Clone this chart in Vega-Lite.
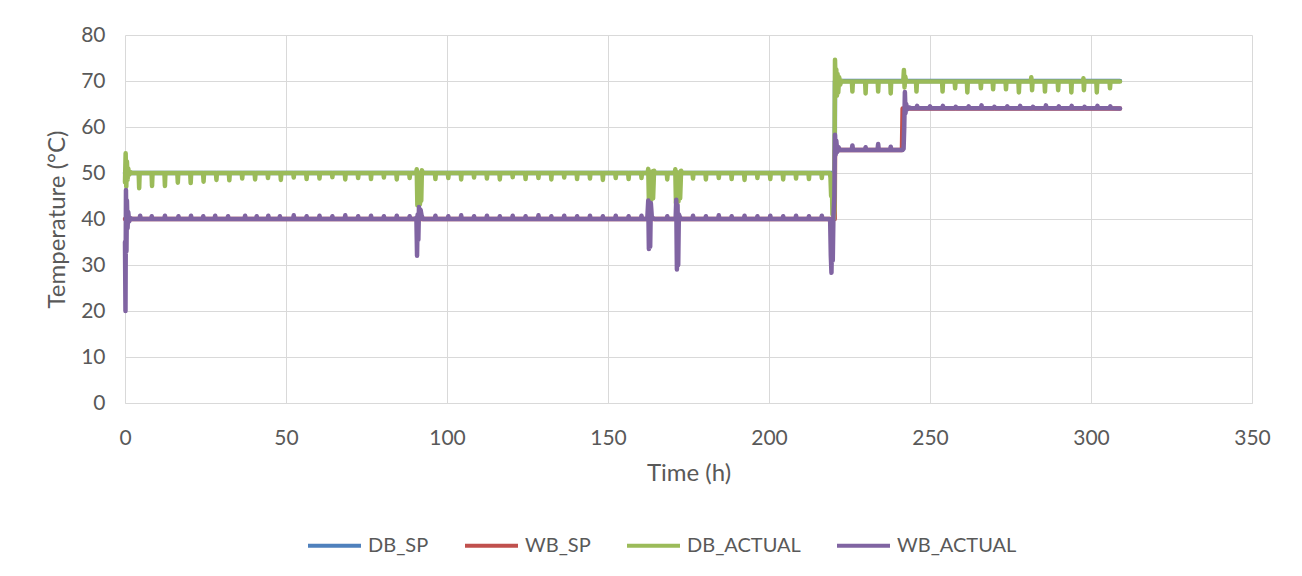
{
  "$schema": "https://vega.github.io/schema/vega-lite/v6.json",
  "width": 1127,
  "height": 368,
  "autosize": "none",
  "padding": {"left": 125, "top": 35, "right": 50, "bottom": 173},
  "background": "white",
  "datasets": {
    "dbsp": [
      {"h": 0, "v": 50}, {"h": 220.4, "v": 50}, {"h": 220.5, "v": 70}, {"h": 309, "v": 70}
    ],
    "wbsp": [
      {"h": 0, "v": 40}, {"h": 220.4, "v": 40}, {"h": 220.5, "v": 55}, {"h": 241.3, "v": 55}, {"h": 241.5, "v": 64}, {"h": 309, "v": 64}
    ],
    "dbact": [
      {"h": 0, "v": 48}, {"h": 0.2, "v": 54.3}, {"h": 0.4, "v": 47}, {"h": 0.6, "v": 52.5}, {"h": 0.8, "v": 48.5}, {"h": 1.0, "v": 51}, {"h": 1.3, "v": 49.6}, {"h": 1.7, "v": 50.2}, {"h": 2.2, "v": 50},
      {"h": 4.25, "v": 50}, {"h": 4.4, "v": 46.7}, {"h": 4.55, "v": 50},
      {"h": 8.25, "v": 50}, {"h": 8.4, "v": 47.2}, {"h": 8.55, "v": 50},
      {"h": 12.25, "v": 50}, {"h": 12.4, "v": 47.2}, {"h": 12.55, "v": 50},
      {"h": 16.25, "v": 50}, {"h": 16.4, "v": 47.9}, {"h": 16.55, "v": 50},
      {"h": 20.25, "v": 50}, {"h": 20.4, "v": 47.8}, {"h": 20.55, "v": 50},
      {"h": 24.25, "v": 50}, {"h": 24.4, "v": 48.1}, {"h": 24.55, "v": 50},
      {"h": 28.25, "v": 50}, {"h": 28.4, "v": 48.5}, {"h": 28.55, "v": 50},
      {"h": 32.25, "v": 50}, {"h": 32.4, "v": 48.4}, {"h": 32.55, "v": 50},
      {"h": 36.25, "v": 50}, {"h": 36.4, "v": 48.8}, {"h": 36.55, "v": 50},
      {"h": 40.25, "v": 50}, {"h": 40.4, "v": 48.6}, {"h": 40.55, "v": 50},
      {"h": 44.25, "v": 50}, {"h": 44.4, "v": 48.9}, {"h": 44.55, "v": 50},
      {"h": 48.25, "v": 50}, {"h": 48.4, "v": 48.5}, {"h": 48.55, "v": 50},
      {"h": 52.25, "v": 50}, {"h": 52.4, "v": 49.0}, {"h": 52.55, "v": 50},
      {"h": 56.25, "v": 50}, {"h": 56.4, "v": 48.7}, {"h": 56.55, "v": 50},
      {"h": 60.25, "v": 50}, {"h": 60.4, "v": 48.8}, {"h": 60.55, "v": 50},
      {"h": 64.25, "v": 50}, {"h": 64.4, "v": 49.1}, {"h": 64.55, "v": 50},
      {"h": 68.25, "v": 50}, {"h": 68.4, "v": 48.6}, {"h": 68.55, "v": 50},
      {"h": 72.25, "v": 50}, {"h": 72.4, "v": 48.9}, {"h": 72.55, "v": 50},
      {"h": 76.25, "v": 50}, {"h": 76.4, "v": 48.7}, {"h": 76.55, "v": 50},
      {"h": 80.25, "v": 50}, {"h": 80.4, "v": 49.0}, {"h": 80.55, "v": 50},
      {"h": 84.25, "v": 50}, {"h": 84.4, "v": 48.6}, {"h": 84.55, "v": 50},
      {"h": 88.25, "v": 50}, {"h": 88.4, "v": 48.9}, {"h": 88.55, "v": 50},
      {"h": 90.4, "v": 50}, {"h": 90.6, "v": 50.8}, {"h": 90.8, "v": 43}, {"h": 91.0, "v": 49.8}, {"h": 91.2, "v": 43.4}, {"h": 91.4, "v": 50}, {"h": 91.6, "v": 43.2}, {"h": 91.8, "v": 49.6}, {"h": 92.0, "v": 44}, {"h": 92.2, "v": 50.6}, {"h": 92.5, "v": 50},
      {"h": 96.25, "v": 50}, {"h": 96.4, "v": 48.7}, {"h": 96.55, "v": 50},
      {"h": 100.25, "v": 50}, {"h": 100.4, "v": 48.9}, {"h": 100.55, "v": 50},
      {"h": 104.25, "v": 50}, {"h": 104.4, "v": 48.6}, {"h": 104.55, "v": 50},
      {"h": 108.25, "v": 50}, {"h": 108.4, "v": 49.0}, {"h": 108.55, "v": 50},
      {"h": 112.25, "v": 50}, {"h": 112.4, "v": 48.8}, {"h": 112.55, "v": 50},
      {"h": 116.25, "v": 50}, {"h": 116.4, "v": 48.6}, {"h": 116.55, "v": 50},
      {"h": 120.25, "v": 50}, {"h": 120.4, "v": 49.1}, {"h": 120.55, "v": 50},
      {"h": 124.25, "v": 50}, {"h": 124.4, "v": 48.7}, {"h": 124.55, "v": 50},
      {"h": 128.25, "v": 50}, {"h": 128.4, "v": 48.9}, {"h": 128.55, "v": 50},
      {"h": 132.25, "v": 50}, {"h": 132.4, "v": 48.6}, {"h": 132.55, "v": 50},
      {"h": 136.25, "v": 50}, {"h": 136.4, "v": 49.0}, {"h": 136.55, "v": 50},
      {"h": 140.25, "v": 50}, {"h": 140.4, "v": 48.7}, {"h": 140.55, "v": 50},
      {"h": 144.25, "v": 50}, {"h": 144.4, "v": 48.8}, {"h": 144.55, "v": 50},
      {"h": 148.25, "v": 50}, {"h": 148.4, "v": 48.5}, {"h": 148.55, "v": 50},
      {"h": 152.25, "v": 50}, {"h": 152.4, "v": 48.9}, {"h": 152.55, "v": 50},
      {"h": 156.25, "v": 50}, {"h": 156.4, "v": 48.7}, {"h": 156.55, "v": 50},
      {"h": 160.25, "v": 50}, {"h": 160.4, "v": 48.9}, {"h": 160.55, "v": 50},
      {"h": 162.3, "v": 50}, {"h": 162.5, "v": 50.9}, {"h": 162.7, "v": 44}, {"h": 162.9, "v": 50.2}, {"h": 163.1, "v": 43.8}, {"h": 163.3, "v": 50}, {"h": 163.5, "v": 44.2}, {"h": 163.7, "v": 50.3}, {"h": 164.0, "v": 44.5}, {"h": 164.3, "v": 50.5}, {"h": 164.6, "v": 50},
      {"h": 168.25, "v": 50}, {"h": 168.4, "v": 48.6}, {"h": 168.55, "v": 50},
      {"h": 170.7, "v": 50}, {"h": 170.9, "v": 50.8}, {"h": 171.1, "v": 43.5}, {"h": 171.3, "v": 50}, {"h": 171.5, "v": 43.2}, {"h": 171.7, "v": 50.1}, {"h": 171.9, "v": 43.8}, {"h": 172.1, "v": 50}, {"h": 172.4, "v": 44.5}, {"h": 172.7, "v": 50.5}, {"h": 173, "v": 50},
      {"h": 176.25, "v": 50}, {"h": 176.4, "v": 48.8}, {"h": 176.55, "v": 50},
      {"h": 180.25, "v": 50}, {"h": 180.4, "v": 48.6}, {"h": 180.55, "v": 50},
      {"h": 184.25, "v": 50}, {"h": 184.4, "v": 48.9}, {"h": 184.55, "v": 50},
      {"h": 188.25, "v": 50}, {"h": 188.4, "v": 48.7}, {"h": 188.55, "v": 50},
      {"h": 192.25, "v": 50}, {"h": 192.4, "v": 48.5}, {"h": 192.55, "v": 50},
      {"h": 196.25, "v": 50}, {"h": 196.4, "v": 48.9}, {"h": 196.55, "v": 50},
      {"h": 200.25, "v": 50}, {"h": 200.4, "v": 48.7}, {"h": 200.55, "v": 50},
      {"h": 204.25, "v": 50}, {"h": 204.4, "v": 48.6}, {"h": 204.55, "v": 50},
      {"h": 208.25, "v": 50}, {"h": 208.4, "v": 48.8}, {"h": 208.55, "v": 50},
      {"h": 212.25, "v": 50}, {"h": 212.4, "v": 48.7}, {"h": 212.55, "v": 50},
      {"h": 216.25, "v": 50}, {"h": 216.4, "v": 48.9}, {"h": 216.55, "v": 50},
      {"h": 218.9, "v": 50}, {"h": 219.1, "v": 49}, {"h": 219.3, "v": 45}, {"h": 219.5, "v": 49.5}, {"h": 219.7, "v": 41}, {"h": 219.9, "v": 44}, {"h": 220.1, "v": 40}, {"h": 220.3, "v": 42},
      {"h": 220.5, "v": 74.6}, {"h": 220.7, "v": 68}, {"h": 220.9, "v": 72.5}, {"h": 221.1, "v": 66.8}, {"h": 221.3, "v": 71.5}, {"h": 221.5, "v": 67.5}, {"h": 221.8, "v": 70.8}, {"h": 222.1, "v": 69.2}, {"h": 222.5, "v": 70}, {"h": 223, "v": 69.9},
      {"h": 225.75, "v": 69.9}, {"h": 225.9, "v": 67.7}, {"h": 226.05, "v": 69.9},
      {"h": 229.85, "v": 69.9}, {"h": 230.0, "v": 67.3}, {"h": 230.15, "v": 69.9},
      {"h": 233.75, "v": 69.9}, {"h": 233.9, "v": 67.7}, {"h": 234.05, "v": 69.9},
      {"h": 237.65, "v": 69.9}, {"h": 237.8, "v": 67.3}, {"h": 237.95, "v": 69.9},
      {"h": 241.7, "v": 69.9}, {"h": 241.9, "v": 72.4}, {"h": 242.1, "v": 68.6}, {"h": 242.3, "v": 71}, {"h": 242.6, "v": 69.9},
      {"h": 245.65, "v": 69.9}, {"h": 245.8, "v": 67.7}, {"h": 245.95, "v": 69.9},
      {"h": 253.75, "v": 69.9}, {"h": 253.9, "v": 67.7}, {"h": 254.05, "v": 69.9},
      {"h": 257.65, "v": 69.9}, {"h": 257.8, "v": 68.4}, {"h": 257.95, "v": 69.9},
      {"h": 261.45, "v": 69.9}, {"h": 261.6, "v": 67.5}, {"h": 261.75, "v": 69.9},
      {"h": 265.65, "v": 69.9}, {"h": 265.8, "v": 68.4}, {"h": 265.95, "v": 69.9},
      {"h": 269.45, "v": 69.9}, {"h": 269.6, "v": 68.2}, {"h": 269.75, "v": 69.9},
      {"h": 273.45, "v": 69.9}, {"h": 273.6, "v": 68.2}, {"h": 273.75, "v": 69.9},
      {"h": 277.45, "v": 69.9}, {"h": 277.6, "v": 67.5}, {"h": 277.75, "v": 69.9},
      {"h": 281.3, "v": 69.9}, {"h": 281.45, "v": 70.8}, {"h": 281.6, "v": 69.9}, {"h": 281.7, "v": 68.0}, {"h": 281.85, "v": 69.9},
      {"h": 285.55, "v": 69.9}, {"h": 285.7, "v": 67.7}, {"h": 285.85, "v": 69.9},
      {"h": 289.65, "v": 69.9}, {"h": 289.8, "v": 68.0}, {"h": 289.95, "v": 69.9},
      {"h": 293.75, "v": 69.9}, {"h": 293.9, "v": 67.5}, {"h": 294.05, "v": 69.9},
      {"h": 297.5, "v": 69.9}, {"h": 297.65, "v": 70.6}, {"h": 297.8, "v": 68.0}, {"h": 297.95, "v": 69.9},
      {"h": 301.65, "v": 69.9}, {"h": 301.8, "v": 67.5}, {"h": 301.95, "v": 69.9},
      {"h": 305.75, "v": 69.9}, {"h": 305.9, "v": 68.4}, {"h": 306.05, "v": 69.9},
      {"h": 309, "v": 69.9}
    ],
    "wbact": [
      {"h": 0, "v": 35}, {"h": 0.15, "v": 20}, {"h": 0.3, "v": 46.3}, {"h": 0.45, "v": 33}, {"h": 0.6, "v": 44}, {"h": 0.8, "v": 38}, {"h": 1.0, "v": 41.5}, {"h": 1.3, "v": 39.5}, {"h": 1.7, "v": 40.2}, {"h": 2.2, "v": 40},
      {"h": 4.5, "v": 40}, {"h": 4.7, "v": 40.7}, {"h": 4.9, "v": 40},
      {"h": 8.1, "v": 40}, {"h": 8.3, "v": 40.6}, {"h": 8.5, "v": 40},
      {"h": 12.2, "v": 40}, {"h": 12.4, "v": 40.7}, {"h": 12.6, "v": 40},
      {"h": 16.4, "v": 40}, {"h": 16.6, "v": 40.6}, {"h": 16.8, "v": 40},
      {"h": 20.3, "v": 40}, {"h": 20.5, "v": 40.7}, {"h": 20.7, "v": 40},
      {"h": 24.1, "v": 40}, {"h": 24.3, "v": 40.6}, {"h": 24.5, "v": 40},
      {"h": 27.8, "v": 40}, {"h": 28.0, "v": 40.7}, {"h": 28.2, "v": 40},
      {"h": 31.8, "v": 40}, {"h": 32.0, "v": 40.6}, {"h": 32.2, "v": 40},
      {"h": 37.1, "v": 40}, {"h": 37.3, "v": 40.7}, {"h": 37.5, "v": 40},
      {"h": 40.7, "v": 40}, {"h": 40.9, "v": 40.6}, {"h": 41.1, "v": 40},
      {"h": 44.3, "v": 40}, {"h": 44.5, "v": 40.7}, {"h": 44.7, "v": 40},
      {"h": 47.9, "v": 40}, {"h": 48.1, "v": 40.6}, {"h": 48.3, "v": 40},
      {"h": 52.2, "v": 40}, {"h": 52.4, "v": 40.8}, {"h": 52.6, "v": 40},
      {"h": 56.2, "v": 40}, {"h": 56.4, "v": 40.6}, {"h": 56.6, "v": 40},
      {"h": 60.2, "v": 40}, {"h": 60.4, "v": 40.7}, {"h": 60.6, "v": 40},
      {"h": 64.2, "v": 40}, {"h": 64.4, "v": 40.6}, {"h": 64.6, "v": 40},
      {"h": 68.2, "v": 40}, {"h": 68.4, "v": 40.8}, {"h": 68.6, "v": 40},
      {"h": 72.2, "v": 40}, {"h": 72.4, "v": 40.6}, {"h": 72.6, "v": 40},
      {"h": 76.2, "v": 40}, {"h": 76.4, "v": 40.7}, {"h": 76.6, "v": 40},
      {"h": 80.2, "v": 40}, {"h": 80.4, "v": 40.6}, {"h": 80.6, "v": 40},
      {"h": 84.2, "v": 40}, {"h": 84.4, "v": 40.7}, {"h": 84.6, "v": 40},
      {"h": 88.2, "v": 40}, {"h": 88.4, "v": 40.6}, {"h": 88.6, "v": 40},
      {"h": 90.2, "v": 40}, {"h": 90.5, "v": 40.3}, {"h": 90.7, "v": 32}, {"h": 90.9, "v": 41}, {"h": 91.1, "v": 35.5}, {"h": 91.3, "v": 42.6}, {"h": 91.5, "v": 41.5}, {"h": 91.8, "v": 42}, {"h": 92.1, "v": 40.8}, {"h": 92.5, "v": 40},
      {"h": 96.2, "v": 40}, {"h": 96.4, "v": 40.7}, {"h": 96.6, "v": 40},
      {"h": 100.2, "v": 40}, {"h": 100.4, "v": 40.6}, {"h": 100.6, "v": 40},
      {"h": 104.2, "v": 40}, {"h": 104.4, "v": 40.8}, {"h": 104.6, "v": 40},
      {"h": 108.2, "v": 40}, {"h": 108.4, "v": 40.6}, {"h": 108.6, "v": 40},
      {"h": 112.2, "v": 40}, {"h": 112.4, "v": 40.7}, {"h": 112.6, "v": 40},
      {"h": 116.2, "v": 40}, {"h": 116.4, "v": 40.6}, {"h": 116.6, "v": 40},
      {"h": 120.2, "v": 40}, {"h": 120.4, "v": 40.7}, {"h": 120.6, "v": 40},
      {"h": 124.2, "v": 40}, {"h": 124.4, "v": 40.6}, {"h": 124.6, "v": 40},
      {"h": 128.2, "v": 40}, {"h": 128.4, "v": 40.8}, {"h": 128.6, "v": 40},
      {"h": 132.2, "v": 40}, {"h": 132.4, "v": 40.6}, {"h": 132.6, "v": 40},
      {"h": 136.2, "v": 40}, {"h": 136.4, "v": 40.7}, {"h": 136.6, "v": 40},
      {"h": 140.2, "v": 40}, {"h": 140.4, "v": 40.6}, {"h": 140.6, "v": 40},
      {"h": 144.2, "v": 40}, {"h": 144.4, "v": 40.7}, {"h": 144.6, "v": 40},
      {"h": 148.2, "v": 40}, {"h": 148.4, "v": 40.6}, {"h": 148.6, "v": 40},
      {"h": 152.2, "v": 40}, {"h": 152.4, "v": 40.7}, {"h": 152.6, "v": 40},
      {"h": 156.2, "v": 40}, {"h": 156.4, "v": 40.6}, {"h": 156.6, "v": 40},
      {"h": 160.2, "v": 40}, {"h": 160.4, "v": 40.7}, {"h": 160.6, "v": 40},
      {"h": 162.2, "v": 40}, {"h": 162.5, "v": 44}, {"h": 162.7, "v": 33.5}, {"h": 162.9, "v": 41}, {"h": 163.1, "v": 34}, {"h": 163.3, "v": 43.5}, {"h": 163.6, "v": 40.5}, {"h": 164.0, "v": 40.2}, {"h": 164.4, "v": 40},
      {"h": 168.2, "v": 40}, {"h": 168.4, "v": 40.6}, {"h": 168.6, "v": 40},
      {"h": 171.0, "v": 40}, {"h": 171.2, "v": 44.2}, {"h": 171.4, "v": 29}, {"h": 171.6, "v": 43}, {"h": 171.8, "v": 30}, {"h": 172.0, "v": 41}, {"h": 172.4, "v": 40.3}, {"h": 172.8, "v": 40},
      {"h": 176.2, "v": 40}, {"h": 176.4, "v": 40.7}, {"h": 176.6, "v": 40},
      {"h": 180.2, "v": 40}, {"h": 180.4, "v": 40.6}, {"h": 180.6, "v": 40},
      {"h": 184.2, "v": 40}, {"h": 184.4, "v": 40.8}, {"h": 184.6, "v": 40},
      {"h": 188.2, "v": 40}, {"h": 188.4, "v": 40.6}, {"h": 188.6, "v": 40},
      {"h": 192.2, "v": 40}, {"h": 192.4, "v": 40.7}, {"h": 192.6, "v": 40},
      {"h": 196.2, "v": 40}, {"h": 196.4, "v": 40.6}, {"h": 196.6, "v": 40},
      {"h": 200.2, "v": 40}, {"h": 200.4, "v": 40.7}, {"h": 200.6, "v": 40},
      {"h": 204.2, "v": 40}, {"h": 204.4, "v": 40.6}, {"h": 204.6, "v": 40},
      {"h": 208.2, "v": 40}, {"h": 208.4, "v": 40.7}, {"h": 208.6, "v": 40},
      {"h": 212.2, "v": 40}, {"h": 212.4, "v": 40.6}, {"h": 212.6, "v": 40},
      {"h": 216.2, "v": 40}, {"h": 216.4, "v": 40.7}, {"h": 216.6, "v": 40},
      {"h": 218.7, "v": 40}, {"h": 219.0, "v": 39.5}, {"h": 219.2, "v": 32}, {"h": 219.4, "v": 28.3}, {"h": 219.6, "v": 38}, {"h": 219.8, "v": 31}, {"h": 220.0, "v": 40.5}, {"h": 220.3, "v": 45}, {"h": 220.5, "v": 58.3}, {"h": 220.7, "v": 54}, {"h": 220.9, "v": 57}, {"h": 221.2, "v": 54.6}, {"h": 221.6, "v": 55.6}, {"h": 222, "v": 55},
      {"h": 225.7, "v": 55}, {"h": 225.9, "v": 56.0}, {"h": 226.1, "v": 55},
      {"h": 229.8, "v": 55}, {"h": 230.0, "v": 55.6}, {"h": 230.2, "v": 55},
      {"h": 233.7, "v": 55}, {"h": 233.9, "v": 56.3}, {"h": 234.1, "v": 55},
      {"h": 237.6, "v": 55}, {"h": 237.8, "v": 55.7}, {"h": 238.0, "v": 55},
      {"h": 241.5, "v": 55}, {"h": 241.8, "v": 55.3}, {"h": 242.0, "v": 60}, {"h": 242.2, "v": 67.6}, {"h": 242.4, "v": 63}, {"h": 242.6, "v": 65}, {"h": 242.9, "v": 63.8}, {"h": 243.4, "v": 64.3}, {"h": 244, "v": 64.1},
      {"h": 245.8, "v": 64.1}, {"h": 246.0, "v": 64.6}, {"h": 246.2, "v": 64.1},
      {"h": 249.8, "v": 64.1}, {"h": 250.0, "v": 64.5}, {"h": 250.2, "v": 64.1},
      {"h": 253.8, "v": 64.1}, {"h": 254.0, "v": 64.6}, {"h": 254.2, "v": 64.1},
      {"h": 257.8, "v": 64.1}, {"h": 258.0, "v": 64.4}, {"h": 258.2, "v": 64.1},
      {"h": 261.8, "v": 64.1}, {"h": 262.0, "v": 64.5}, {"h": 262.2, "v": 64.1},
      {"h": 265.8, "v": 64.1}, {"h": 266.0, "v": 64.7}, {"h": 266.2, "v": 64.1},
      {"h": 269.8, "v": 64.1}, {"h": 270.0, "v": 64.4}, {"h": 270.2, "v": 64.1},
      {"h": 273.8, "v": 64.1}, {"h": 274.0, "v": 64.5}, {"h": 274.2, "v": 64.1},
      {"h": 277.8, "v": 64.1}, {"h": 278.0, "v": 64.6}, {"h": 278.2, "v": 64.1},
      {"h": 281.8, "v": 64.1}, {"h": 282.0, "v": 64.4}, {"h": 282.2, "v": 64.1},
      {"h": 285.8, "v": 64.1}, {"h": 286.0, "v": 64.7}, {"h": 286.2, "v": 64.1},
      {"h": 289.8, "v": 64.1}, {"h": 290.0, "v": 64.5}, {"h": 290.2, "v": 64.1},
      {"h": 293.8, "v": 64.1}, {"h": 294.0, "v": 64.6}, {"h": 294.2, "v": 64.1},
      {"h": 297.8, "v": 64.1}, {"h": 298.0, "v": 64.4}, {"h": 298.2, "v": 64.1},
      {"h": 301.8, "v": 64.1}, {"h": 302.0, "v": 64.6}, {"h": 302.2, "v": 64.1},
      {"h": 305.8, "v": 64.1}, {"h": 306.0, "v": 64.5}, {"h": 306.2, "v": 64.1},
      {"h": 309, "v": 64.0}
    ]
  },
  "encoding": {
    "x": {
      "field": "h", "type": "quantitative",
      "scale": {"domain": [0, 350], "nice": false, "zero": false},
      "axis": {"values": [0, 50, 100, 150, 200, 250, 300, 350], "title": "Time (h)", "labelPadding": 24, "titlePadding": 13, "domain": true, "labelFlush": false}
    },
    "y": {
      "field": "v", "type": "quantitative",
      "scale": {"domain": [0, 80], "nice": false},
      "axis": {"values": [0, 10, 20, 30, 40, 50, 60, 70, 80], "title": "Temperature (°C)", "labelPadding": 20, "titlePadding": 11, "domain": false, "labelFlush": false}
    }
  },
  "layer": [
    {
      "data": {"name": "dbsp"},
      "mark": {"type": "line", "strokeWidth": 4.5, "strokeJoin": "round", "strokeCap": "round"},
      "encoding": {
        "color": {
          "datum": "DB_SP", "type": "nominal",
          "scale": {"domain": ["DB_SP", "WB_SP", "DB_ACTUAL", "WB_ACTUAL"], "range": ["#4F81BD", "#C0504D", "#9BBB59", "#8064A2"]},
          "legend": {"orient": "none", "direction": "horizontal", "legendX": 181, "legendY": 482, "title": null, "symbolType": "stroke", "symbolSize": 2809, "symbolStrokeWidth": 4, "labelFontSize": 20, "labelFont": "Lato", "labelColor": "#595959", "labelOffset": 5, "columnPadding": 28}
        }
      }
    },
    {
      "data": {"name": "wbsp"},
      "mark": {"type": "line", "strokeWidth": 4.5, "strokeJoin": "round", "strokeCap": "round"},
      "encoding": {"color": {"datum": "WB_SP", "type": "nominal"}}
    },
    {
      "data": {"name": "dbact"},
      "mark": {"type": "line", "strokeWidth": 4.5, "strokeJoin": "round", "strokeCap": "round"},
      "encoding": {"color": {"datum": "DB_ACTUAL", "type": "nominal"}}
    },
    {
      "data": {"name": "wbact"},
      "mark": {"type": "line", "strokeWidth": 4.5, "strokeJoin": "round", "strokeCap": "round"},
      "encoding": {"color": {"datum": "WB_ACTUAL", "type": "nominal"}}
    }
  ],
  "config": {
    "font": "Lato",
    "view": {"stroke": null},
    "axis": {
      "gridColor": "#D9D9D9", "gridWidth": 1, "domainColor": "#D9D9D9", "ticks": false,
      "labelColor": "#595959", "titleColor": "#595959", "labelFont": "Lato", "titleFont": "Lato",
      "labelFontSize": 21, "titleFontSize": 24, "titleFontWeight": "normal"
    }
  }
}
